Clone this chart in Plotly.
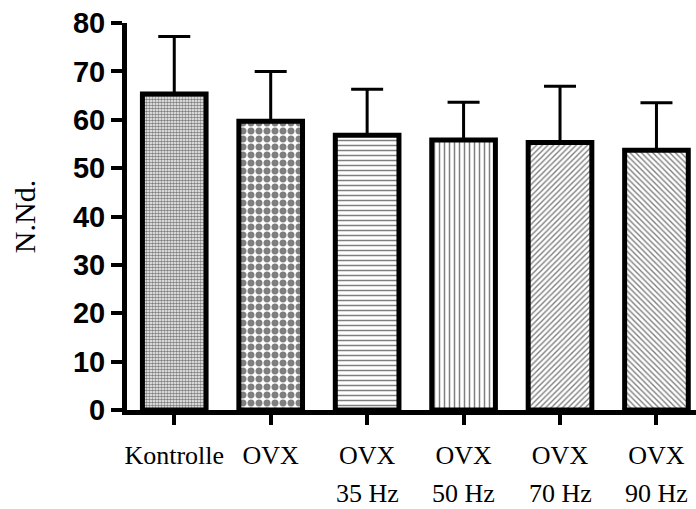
import plotly.graph_objects as go

categories = ["Kontrolle", "OVX", "OVX 35 Hz", "OVX 50 Hz", "OVX 70 Hz", "OVX 90 Hz"]
line1 = ["Kontrolle", "OVX", "OVX", "OVX", "OVX", "OVX"]
line2 = ["", "", "35 Hz", "50 Hz", "70 Hz", "90 Hz"]
means = [65.3, 59.7, 56.8, 55.8, 55.3, 53.7]
sd_up = [11.9, 10.3, 9.5, 7.8, 11.6, 9.8]
pattern_shapes = [".", ".", "-", "|", "/", "\\"]
pattern_sizes = [3, 8, 5, 5, 4, 4]
pattern_solid = [0.6, 0.6, 0.3, 0.3, 0.35, 0.35]

xs = list(range(len(categories)))
serif = "Times New Roman, Liberation Serif, serif"

fig = go.Figure()
fig.add_trace(go.Bar(
    x=xs, y=means, width=0.66,
    marker=dict(color="white",
                line=dict(color="black", width=5),
                pattern=dict(shape=pattern_shapes, size=pattern_sizes,
                             solidity=pattern_solid, fgcolor="black",
                             bgcolor="white", fillmode="overlay")),
    error_y=dict(type="data", symmetric=False, array=sd_up,
                 arrayminus=[0] * len(sd_up), color="black",
                 thickness=3, width=16),
    showlegend=False,
))

for x, t in zip(xs, line2):
    if t:
        fig.add_annotation(x=x, y=-0.2145, xref="x", yref="paper", text=t,
                           showarrow=False, yanchor="middle",
                           font=dict(family=serif, size=26, color="black"))

fig.update_layout(
    width=696, height=509,
    margin=dict(l=127, r=0, t=23, b=99),
    plot_bgcolor="white", paper_bgcolor="white",
    xaxis=dict(range=[-0.49, 5.41], tickvals=xs, ticktext=line1,
               showline=True, linecolor="black", linewidth=5,
               ticks="outside", ticklen=10, tickwidth=4, tickcolor="black",
               ticklabelstandoff=8,
               tickfont=dict(family=serif, size=26, color="black"),
               showgrid=False, zeroline=False),
    yaxis=dict(range=[0, 80], tickvals=[0, 10, 20, 30, 40, 50, 60, 70, 80],
               showline=True, linecolor="black", linewidth=5,
               ticks="outside", ticklen=11, tickwidth=4, tickcolor="black",
               ticklabelstandoff=0,
               tickfont=dict(family="Liberation Sans", size=29, color="black", weight="bold"),
               showgrid=False, zeroline=False,
               title=dict(text="N.Nd.", standoff=30,
                          font=dict(family=serif, size=30, color="black"))),
)

fig.write_html("out.html")
